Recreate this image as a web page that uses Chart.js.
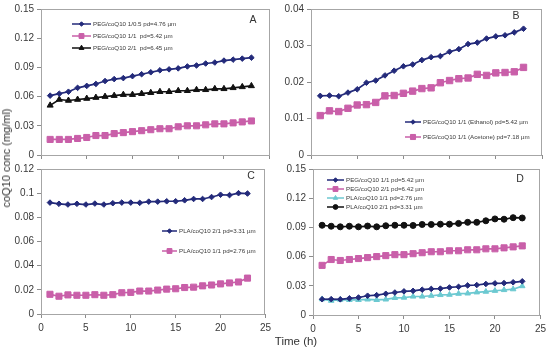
<!DOCTYPE html>
<html><head><meta charset="utf-8">
<script src="https://cdn.jsdelivr.net/npm/chart.js@4/dist/chart.umd.min.js"></script>
<style>
html,body{margin:0;padding:0;background:#fff;width:550px;height:349px;overflow:hidden;position:relative;font-family:"Liberation Sans",Arial,sans-serif}
canvas{position:absolute}
#ytitle{position:absolute;left:6px;top:158px;transform:translate(-50%,-50%) rotate(-90deg);font-size:11px;color:#333;white-space:nowrap}
#xtitle{position:absolute;left:296px;top:341px;transform:translate(-50%,-50%);font-size:11.5px;color:#333;white-space:nowrap}
</style></head><body>
<canvas id="cA" width="275" height="165" style="left:0;top:0;width:275px;height:165px"></canvas>
<canvas id="cB" width="275" height="165" style="left:275px;top:0;width:275px;height:165px"></canvas>
<canvas id="cC" width="275" height="189" style="left:0;top:160px;width:275px;height:189px"></canvas>
<canvas id="cD" width="275" height="189" style="left:275px;top:160px;width:275px;height:189px"></canvas>
<div id="ytitle">coQ10 conc (mg/ml)</div>
<div id="xtitle">Time (h)</div>
<script>
// ---- data ----
const hours = [1,2,3,4,5,6,7,8,9,10,11,12,13,14,15,16,17,18,19,20,21,22,23];
const xTicks = [0,5,10,15,20,25];
const pegA_105 = [0.061,0.063,0.065,0.069,0.071,0.073,0.076,0.078,0.079,0.081,0.083,0.085,0.087,0.088,0.089,0.091,0.092,0.094,0.095,0.097,0.098,0.099,0.100];
const pegA_11  = [0.016,0.016,0.016,0.017,0.018,0.020,0.020,0.022,0.023,0.024,0.025,0.026,0.027,0.027,0.029,0.030,0.030,0.031,0.032,0.032,0.033,0.034,0.035];
const pegA_21  = [0.051,0.057,0.056,0.057,0.058,0.059,0.060,0.061,0.062,0.062,0.063,0.064,0.065,0.065,0.066,0.066,0.067,0.067,0.068,0.068,0.069,0.070,0.071];
const pegB_eth = [0.0162,0.0163,0.0161,0.0171,0.0180,0.0198,0.0204,0.0218,0.0231,0.0243,0.0248,0.0260,0.0268,0.0271,0.0283,0.0290,0.0304,0.0308,0.0319,0.0325,0.0328,0.0336,0.0346];
const pegB_ace = [0.0108,0.0121,0.0119,0.0128,0.0137,0.0138,0.0144,0.0162,0.0163,0.0169,0.0175,0.0182,0.0184,0.0198,0.0204,0.0209,0.0211,0.0221,0.0218,0.0225,0.0226,0.0228,0.0240];
const plaC_21  = [0.0922,0.0912,0.0906,0.0912,0.0906,0.0914,0.0906,0.0917,0.0922,0.0922,0.0920,0.0930,0.0930,0.0933,0.0933,0.0941,0.0952,0.0952,0.0968,0.0987,0.0984,0.1000,0.0997];
const plaC_11  = [0.0163,0.0147,0.0158,0.0155,0.0155,0.0160,0.0155,0.0160,0.0176,0.0179,0.0190,0.0190,0.0198,0.0206,0.0209,0.0219,0.0222,0.0233,0.0240,0.0249,0.0257,0.0265,0.0297];

const labelsA = ['PEG/coQ10 1/0.5 pd=4.76 µm','PEG/coQ10 1/1  pd=5.42 µm','PEG/coQ10 2/1  pd=6.45 µm'];
const labelsB = ['PEG/coQ10 1/1 (Ethanol) pd=5.42 µm','PEG/coQ10 1/1 (Acetone) pd=7.18 µm'];
const labelsC = ['PLA/coQ10 2/1 pd=3.31 µm','PLA/coQ10 1/1 pd=2.76 µm'];
const labelsD = ['PEG/coQ10 1/1 pd=5.42 µm','PEG/coQ10 2/1 pd=6.42 µm','PLA/coQ10 1/1 pd=2.76 µm','PLA/coQ10 2/1 pd=3.31 µm'];

// ---- styles ----
const NAVY='#232a7a', PINK='#c95fa9', BLACK='#111111', CYAN='#6cc9d1';
const AX='#8c8c8c', BOX='#a6a6a6', TXT='#3a3a3a';
const FONT='"Liberation Sans", Arial, sans-serif';

function ds(label, arr, color, style, r){
  return {label, data: hours.map((h,i)=>({x:h,y:arr[i]})), borderColor:color, backgroundColor:color,
    pointStyle:style, pointRadius:r, pointHoverRadius:r, pointBorderWidth:1, borderWidth:1.7, tension:0, fill:false};
}
function fmt(v){ return String(Math.round(v*1000)/1000); }

const deco = {
  id:'deco',
  afterDraw(chart, args, o){
    const ctx = chart.ctx, ca = chart.chartArea;
    ctx.save();
    ctx.strokeStyle = BOX; ctx.lineWidth = 1;
    ctx.strokeRect(Math.round(ca.left)+0.5, Math.round(ca.top)+0.5, Math.round(ca.right-ca.left)-1, Math.round(ca.bottom-ca.top));
    // legend
    const L = o.legend;
    chart.data.datasets.forEach((d,i)=>{
      const y = L.y0 + i*L.dy;
      ctx.strokeStyle = d.borderColor; ctx.lineWidth = 1.5;
      ctx.beginPath(); ctx.moveTo(L.x1, y); ctx.lineTo(L.x2, y); ctx.stroke();
      ctx.fillStyle = d.backgroundColor; ctx.lineWidth = 1;
      Chart.helpers.drawPoint(ctx, {pointStyle:d.pointStyle, radius:d.pointRadius*0.8, rotation:0, borderWidth:1}, (L.x1+L.x2)/2, y);
      ctx.fillStyle = TXT; ctx.font = L.size+'px '+FONT; ctx.textBaseline='middle'; ctx.textAlign='left';
      ctx.fillText(d.label, L.x2+2, y);
    });
    ctx.fillStyle = '#333'; ctx.font = '10.5px '+FONT; ctx.textAlign='center'; ctx.textBaseline='middle';
    ctx.fillText(o.letter.t, o.letter.x, o.letter.y);
    ctx.restore();
  }
};

function make(id, datasets, yMax, yStep, showX, yW, xH, pad, legend, letter){
  return new Chart(document.getElementById(id), {
    type:'line',
    data:{datasets},
    options:{
      responsive:false, animation:false, devicePixelRatio:1,
      layout:{padding:pad},
      plugins:{legend:{display:false}, tooltip:{enabled:false}, deco:{legend, letter}},
      scales:{
        x:{type:'linear', min:0, max:25,
           afterBuildTicks: s=>{ s.ticks = xTicks.map(v=>({value:v})); },
           ticks:{display:showX, font:{size:10, family:FONT}, color:TXT, padding:4, maxRotation:0, autoSkip:false},
           grid:{drawOnChartArea:false, drawTicks:true, tickLength:4, color:AX},
           border:{color:AX},
           afterFit: s=>{ s.height = xH; }},
        y:{min:0, max:yMax,
           afterBuildTicks: s=>{ const t=[]; for(let k=0;k<=Math.round(yMax/yStep);k++) t.push({value:Math.round(k*yStep*1000)/1000}); s.ticks=t; },
           ticks:{font:{size:10, family:FONT}, color:TXT, padding:3, callback:v=>fmt(v)},
           grid:{drawOnChartArea:false, drawTicks:true, tickLength:4, color:AX},
           border:{color:AX},
           afterFit: s=>{ s.width = yW; }}
      }
    },
    plugins:[deco]
  });
}

make('cA', [
  ds(labelsA[0], pegA_105, NAVY, 'rectRot', 2.8),
  ds(labelsA[1], pegA_11, PINK, 'rect', 4.3),
  ds(labelsA[2], pegA_21, BLACK, 'triangle', 3.5)
], 0.15, 0.03, false, 41, 10, {top:7,right:3,left:0,bottom:0},
  {x1:72, x2:91, y0:24, dy:12, size:6.2}, {t:'A', x:253, y:20});

make('cB', [
  ds(labelsB[0], pegB_eth, NAVY, 'rectRot', 2.8),
  ds(labelsB[1], pegB_ace, PINK, 'rect', 4.5)
], 0.04, 0.01, false, 36, 10, {top:7,right:8,left:0,bottom:0},
  {x1:130, x2:146, y0:122, dy:15, size:6.2}, {t:'B', x:241, y:16});

make('cC', [
  ds(labelsC[0], plaC_21, NAVY, 'rectRot', 2.8),
  ds(labelsC[1], plaC_11, PINK, 'rect', 4.3)
], 0.12, 0.02, true, 41, 35, {top:5,right:3,left:0,bottom:0},
  {x1:162, x2:177, y0:71, dy:20, size:6.2}, {t:'C', x:251, y:16});

make('cD', [
  ds(labelsD[0], pegB_eth, NAVY, 'rectRot', 2.8),
  ds(labelsD[1], pegA_21, PINK, 'rect', 4.3),
  ds(labelsD[2], plaC_11, CYAN, 'triangle', 3.2),
  ds(labelsD[3], plaC_21, BLACK, 'circle', 3)
], 0.15, 0.03, true, 38, 34, {top:6,right:7,left:0,bottom:0},
  {x1:52, x2:69, y0:20, dy:9, size:6.2}, {t:'D', x:245, y:19});
</script>
</body></html>
